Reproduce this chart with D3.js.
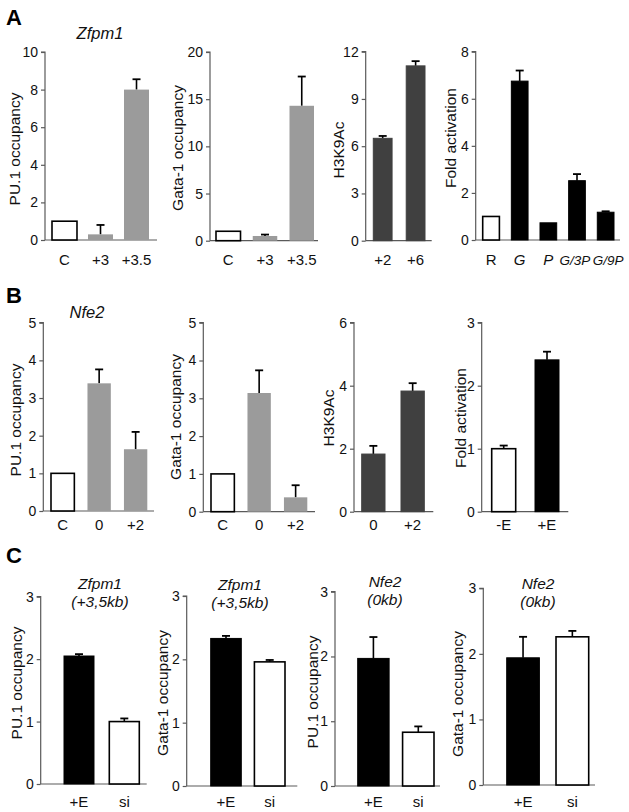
<!DOCTYPE html>
<html><head><meta charset="utf-8">
<script src="https://cdn.jsdelivr.net/npm/d3@7"></script>
<style>
html,body{margin:0;padding:0;background:#fff;}
svg{display:block;font-family:"Liberation Sans",Arial,Helvetica,sans-serif;}
</style></head>
<body><svg id="c" width="629" height="812"></svg>
<script>
// ---- data ----
const a1Cats = ["C", "+3", "+3.5"];
const a1Vals = [1, 0.3, 8.0];
const a1Errs = [0, 0.5, 0.55];
const a2Cats = ["C", "+3", "+3.5"];
const a2Vals = [1, 0.5, 14.3];
const a2Errs = [0, 0.15, 3.1];
const a3Cats = ["+2", "+6"];
const a3Vals = [6.5, 11.1];
const a3Errs = [0.15, 0.3];
const a4Cats = ["R", "G", "P", "G/3P", "G/9P"];
const a4Vals = [1, 6.75, 0.73, 2.52, 1.18];
const a4Errs = [0, 0.45, 0, 0.28, 0.04];
const b1Cats = ["C", "0", "+2"];
const b1Vals = [1, 3.39, 1.64];
const b1Errs = [0, 0.37, 0.46];
const b2Cats = ["C", "0", "+2"];
const b2Vals = [1, 3.14, 0.38];
const b2Errs = [0, 0.6, 0.32];
const b3Cats = ["0", "+2"];
const b3Vals = [1.83, 3.83];
const b3Errs = [0.26, 0.25];
const b4Cats = ["-E", "+E"];
const b4Vals = [1.0, 2.41];
const b4Errs = [0.05, 0.13];
const c1Cats = ["+E", "si"];
const c1Vals = [2.05, 1.0];
const c1Errs = [0.03, 0.05];
const c2Cats = ["+E", "si"];
const c2Vals = [2.33, 1.96];
const c2Errs = [0.04, 0.03];
const c3Cats = ["+E", "si"];
const c3Vals = [1.97, 0.83];
const c3Errs = [0.33, 0.09];
const c4Cats = ["+E", "si"];
const c4Vals = [1.94, 2.26];
const c4Errs = [0.32, 0.09];
const yMaxes = {a1:10, a2:20, a3:12, a4:8, b1:5, b2:5, b3:6, b4:3, c1:3, c2:3, c3:3, c4:3};
const yTickSteps = {a1:2, a2:5, a3:3, a4:2, b1:1, b2:1, b3:2, b4:1, c1:1, c2:1, c3:1, c4:1};

// ---- styles ----
const W = "#ffffff", G = "#9b9b9b", D = "#404040", K = "#000000";

const panels = [
 {id:"a1", cats:a1Cats, vals:a1Vals, errs:a1Errs, fills:[W,G,G], ax:45, top:52, zero:240, end:157, bx0:52, bx1:149, pad:0.306, ylab:"PU.1 occupancy", lx:14, ly:149, catY:265},
 {id:"a2", cats:a2Cats, vals:a2Vals, errs:a2Errs, fills:[W,G,G], ax:210, top:52, zero:240.7, end:318, bx0:216, bx1:314, pad:0.333, ylab:"Gata-1 occupancy", lx:177, ly:148, catY:265},
 {id:"a3", cats:a3Cats, vals:a3Vals, errs:a3Errs, fills:[D,D], ax:365.7, top:51.7, zero:240.7, end:431.7, bx0:373.3, bx1:425, pad:0.43, ylab:"H3K9Ac", lx:338, ly:150, catY:265},
 {id:"a4", cats:a4Cats, vals:a4Vals, errs:a4Errs, fills:[W,K,K,K,K], ax:475.7, top:51.7, zero:240, end:620, bx0:482.7, bx1:614, pad:0.417, ylab:"Fold activation", lx:450, ly:138, catY:265, italic:[false,true,true,true,true], fs:[15,15,15,13.5,13.5], dx:[0,0,0,-2,2.5]},
 {id:"b1", cats:b1Cats, vals:b1Vals, errs:b1Errs, fills:[W,G,G], ax:43.3, top:322.7, zero:511, end:154, bx0:51, bx1:147.3, pad:0.36, ylab:"PU.1 occupancy", lx:15, ly:420, catY:530},
 {id:"b2", cats:b2Cats, vals:b2Vals, errs:b2Errs, fills:[W,G,G], ax:203.3, top:322.7, zero:511.7, end:315, bx0:211, bx1:307.3, pad:0.36, ylab:"Gata-1 occupancy", lx:175, ly:417, catY:530},
 {id:"b3", cats:b3Cats, vals:b3Vals, errs:b3Errs, fills:[D,D], ax:354, top:322.7, zero:511.7, end:433.3, bx0:361.7, bx1:424.3, pad:0.407, ylab:"H3K9Ac", lx:328, ly:418, catY:530},
 {id:"b4", cats:b4Cats, vals:b4Vals, errs:b4Errs, fills:[W,K], ax:481.7, top:322.7, zero:511.7, end:568.3, bx0:491.7, bx1:559, pad:0.446, ylab:"Fold activation", lx:460, ly:418, catY:530},
 {id:"c1", cats:c1Cats, vals:c1Vals, errs:c1Errs, fills:[K,W], ax:40.7, top:596.7, zero:784, end:146.7, bx0:64, bx1:139.3, pad:0.338, ylab:"PU.1 occupancy", lx:16, ly:683, catY:807, title:["Zfpm1","(+3,5kb)"], tx:100, ty:[589,607]},
 {id:"c2", cats:c2Cats, vals:c2Vals, errs:c2Errs, fills:[K,W], ax:186.7, top:596, zero:786, end:297.3, bx0:210.7, bx1:285, pad:0.30, ylab:"Gata-1 occupancy", lx:162, ly:693, catY:807, title:["Zfpm1","(+3,5kb)"], tx:240, ty:[590,608]},
 {id:"c3", cats:c3Cats, vals:c3Vals, errs:c3Errs, fills:[K,W], ax:335, top:591.7, zero:786, end:440, bx0:357.7, bx1:434, pad:0.30, ylab:"PU.1 occupancy", lx:312, ly:692, catY:807, title:["Nfe2","(0kb)"], tx:385, ty:[587,605]},
 {id:"c4", cats:c4Cats, vals:c4Vals, errs:c4Errs, fills:[K,W], ax:483.3, top:588.3, zero:785, end:595, bx0:506.7, bx1:588.7, pad:0.337, ylab:"Gata-1 occupancy", lx:457, ly:694, catY:807, title:["Nfe2","(0kb)"], tx:538, ty:[589,607]}
];

const svg = d3.select("#c");
const AXC = "#5a5a5a";

panels.forEach(p => {
  const g = svg.append("g");
  const y = d3.scaleLinear().domain([0, yMaxes[p.id]]).range([p.zero, p.top]);
  const x = d3.scaleBand().domain(p.cats).range([p.bx0, p.bx1]).paddingInner(p.pad).paddingOuter(0);
  const ticks = d3.range(0, yMaxes[p.id] + 1e-9, yTickSteps[p.id]);

  // y axis
  const yAxis = d3.axisLeft(y).tickValues(ticks).tickSize(4).tickPadding(3).tickFormat(d3.format("d"));
  const ga = g.append("g").attr("transform", `translate(${p.ax},0)`).call(yAxis);
  ga.select(".domain").attr("stroke", AXC).attr("stroke-width", 1.2).attr("d", `M-4,${p.top}H0V${p.zero}`);
  ga.selectAll(".tick line").attr("stroke", AXC).attr("stroke-width", 1.2);
  ga.selectAll(".tick text").attr("fill", "#111").attr("font-size", 14).attr("font-family", "Liberation Sans, Arial, sans-serif");

  // baseline
  g.append("line").attr("x1", p.ax).attr("x2", p.end).attr("y1", p.zero).attr("y2", p.zero)
    .attr("stroke", AXC).attr("stroke-width", 1.2);

  const data = p.cats.map((c, i) => ({c, v:p.vals[i], e:p.errs[i], f:p.fills[i],
    it:p.italic ? p.italic[i] : false, fs:p.fs ? p.fs[i] : 15, dx:p.dx ? p.dx[i] : 0}));
  const cap = 4;
  data.filter(d => d.e > 0).forEach(d => {
    const cx = x(d.c) + x.bandwidth() / 2;
    g.append("line").attr("x1", cx).attr("x2", cx).attr("y1", y(d.v)).attr("y2", y(d.v + d.e))
      .attr("stroke", "#000").attr("stroke-width", 1.6);
    g.append("line").attr("x1", cx - cap).attr("x2", cx + cap).attr("y1", y(d.v + d.e)).attr("y2", y(d.v + d.e))
      .attr("stroke", "#000").attr("stroke-width", 1.8);
  });

  // bars
  g.selectAll("rect.bar").data(data).join("rect").attr("class", "bar")
    .attr("x", d => x(d.c)).attr("width", x.bandwidth())
    .attr("y", d => y(d.v)).attr("height", d => p.zero - y(d.v))
    .attr("fill", d => d.f)
    .attr("stroke", d => d.f === W ? "#000" : (d.f === G ? "none" : d.f))
    .attr("stroke-width", d => d.f === W ? 1.6 : 1);

  // category labels
  g.selectAll("text.cat").data(data).join("text").attr("class", "cat")
    .attr("x", d => x(d.c) + x.bandwidth() / 2 + d.dx).attr("y", p.catY)
    .attr("text-anchor", "middle").attr("font-size", d => d.fs).attr("fill", "#111")
    .attr("font-style", d => d.it ? "italic" : "normal")
    .text(d => d.c);

  // y label
  g.append("text").attr("transform", `translate(${p.lx},${p.ly}) rotate(-90)`)
    .attr("text-anchor", "middle").attr("dominant-baseline", "central")
    .attr("font-size", 15.5).attr("fill", "#111").text(p.ylab);

  // titles (row C)
  if (p.title) {
    p.title.forEach((t, i) => {
      g.append("text").attr("x", p.tx).attr("y", p.ty[i]).attr("text-anchor", "middle")
        .attr("font-size", 15.5).attr("font-style", "italic").attr("fill", "#111").text(t);
    });
  }
});

// row titles
svg.append("text").attr("x", 100).attr("y", 39).attr("text-anchor", "middle").attr("font-size", 16.5)
  .attr("font-style", "italic").attr("fill", "#111").text("Zfpm1");
svg.append("text").attr("x", 87).attr("y", 318).attr("text-anchor", "middle").attr("font-size", 16.5)
  .attr("font-style", "italic").attr("fill", "#111").text("Nfe2");

// panel letters
[["A", 25], ["B", 303], ["C", 563]].forEach(([t, yy]) => {
  svg.append("text").attr("x", 6).attr("y", yy).attr("font-size", 22).attr("font-weight", "bold")
    .attr("fill", "#000").text(t);
});
</script></body></html>
